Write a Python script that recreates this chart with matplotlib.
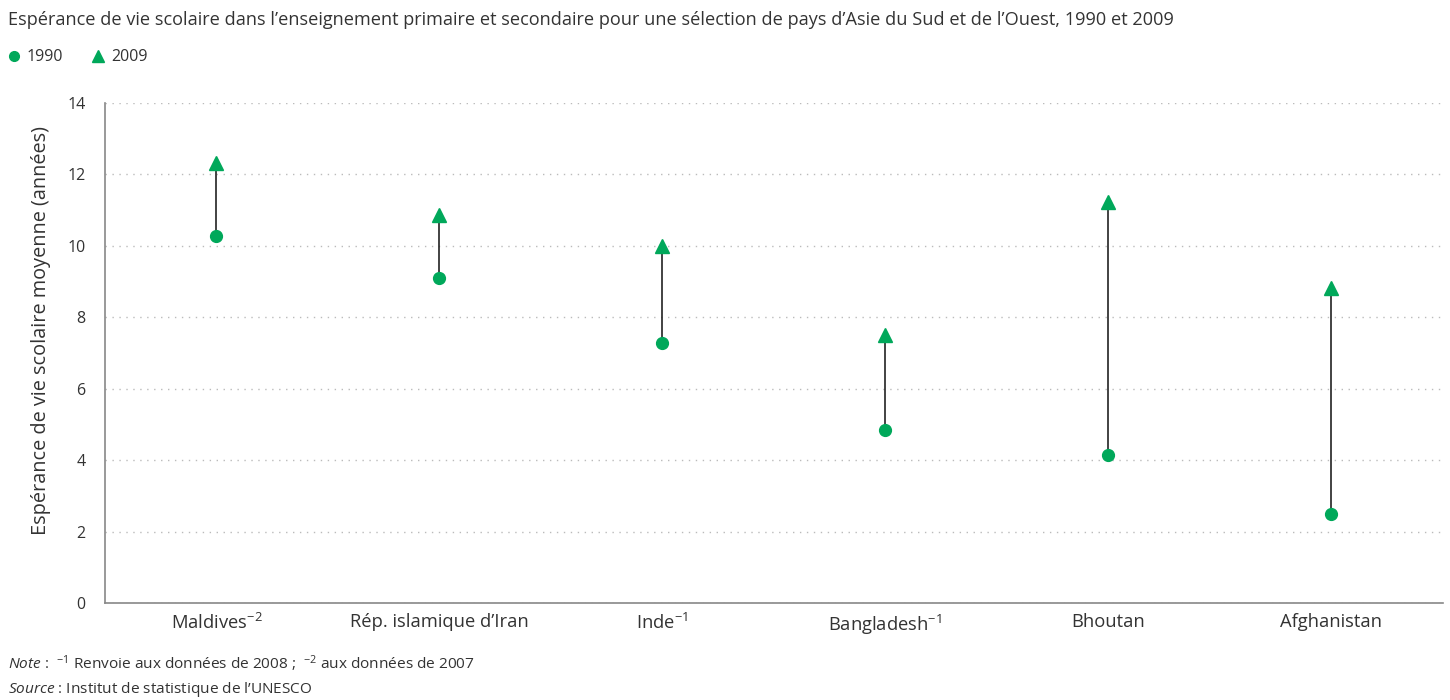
import matplotlib
matplotlib.use("Agg")
import matplotlib.pyplot as plt
from matplotlib.lines import Line2D
import numpy as np

# data
pays = ["Maldives$^{-2}$", "Rép. islamique d’Iran", "Inde$^{-1}$",
        "Bangladesh$^{-1}$", "Bhoutan", "Afghanistan"]
val_1990 = [10.28, 9.10, 7.28, 4.84, 4.14, 2.49]
val_2009 = [12.32, 10.85, 10.00, 7.50, 11.23, 8.82]
yticks = [0, 2, 4, 6, 8, 10, 12, 14]

green = "#00a85a"
textc = "#333333"

plt.rcParams["font.family"] = ["Open Sans", "DejaVu Sans"]
plt.rcParams["mathtext.fontset"] = "custom"
plt.rcParams["mathtext.rm"] = "Open Sans"
plt.rcParams["mathtext.it"] = "Open Sans:italic"
plt.rcParams["text.color"] = textc

fig = plt.figure(figsize=(14.5, 7), dpi=100)
ax = fig.add_axes([0.0724, 0.1386, 0.9226, 0.7144])

x = np.arange(len(pays))
ax.vlines(x, val_1990, val_2009, color="#222222", linewidth=1.2, zorder=2)
ax.plot(x, val_1990, "o", color=green, markersize=8.5, zorder=3, label="1990")
ax.plot(x, val_2009, "^", color=green, markersize=10, zorder=3, label="2009")

ax.set_xlim(-0.5, len(pays) - 0.5)
ax.set_ylim(0, 14)
ax.set_yticks(yticks)
ax.set_xticks(x)
ax.set_xticklabels(pays, fontsize=13.2, color=textc)
ax.tick_params(axis="y", length=0, labelsize=11.5, labelcolor=textc, pad=14)
ax.tick_params(axis="x", length=0, pad=7)
ax.grid(axis="y", linestyle=(0, (1, 4)), color="#bbbbbb", linewidth=1)
ax.set_axisbelow(True)
for s in ["top", "right"]:
    ax.spines[s].set_visible(False)
for s in ["left", "bottom"]:
    ax.spines[s].set_color("#888888")
    ax.spines[s].set_linewidth(1.2)
ax.set_ylabel("Espérance de vie scolaire moyenne (années)", fontsize=14.3,
              color=textc)
ax.yaxis.set_label_coords(-0.040, 0.545)

fig.text(0.0055, 0.972, "Espérance de vie scolaire dans l’enseignement primaire et secondaire "
         "pour une sélection de pays d’Asie du Sud et de l’Ouest, 1990 et 2009",
         fontsize=13.1, va="center", ha="left")

handles = [Line2D([], [], marker="o", color=green, linestyle="", markersize=7),
           Line2D([], [], marker="^", color=green, linestyle="", markersize=9)]
fig.legend(handles, ["1990", "2009"], loc="center left", bbox_to_anchor=(-0.006, 0.918),
           ncol=2, frameon=False, fontsize=11.5, handletextpad=0.3, columnspacing=1.7,
           handlelength=1.0)

fig.text(0.0055, 0.052, r"$\it{Note}$ :  $^{-1}$ Renvoie aux données de 2008 ;  $^{-2}$ aux données de 2007",
         fontsize=11.1, va="center", ha="left")
fig.text(0.0055, 0.015, r"$\it{Source}$ : Institut de statistique de l’UNESCO",
         fontsize=11.1, va="center", ha="left")

fig.savefig("out.png", dpi=100)
